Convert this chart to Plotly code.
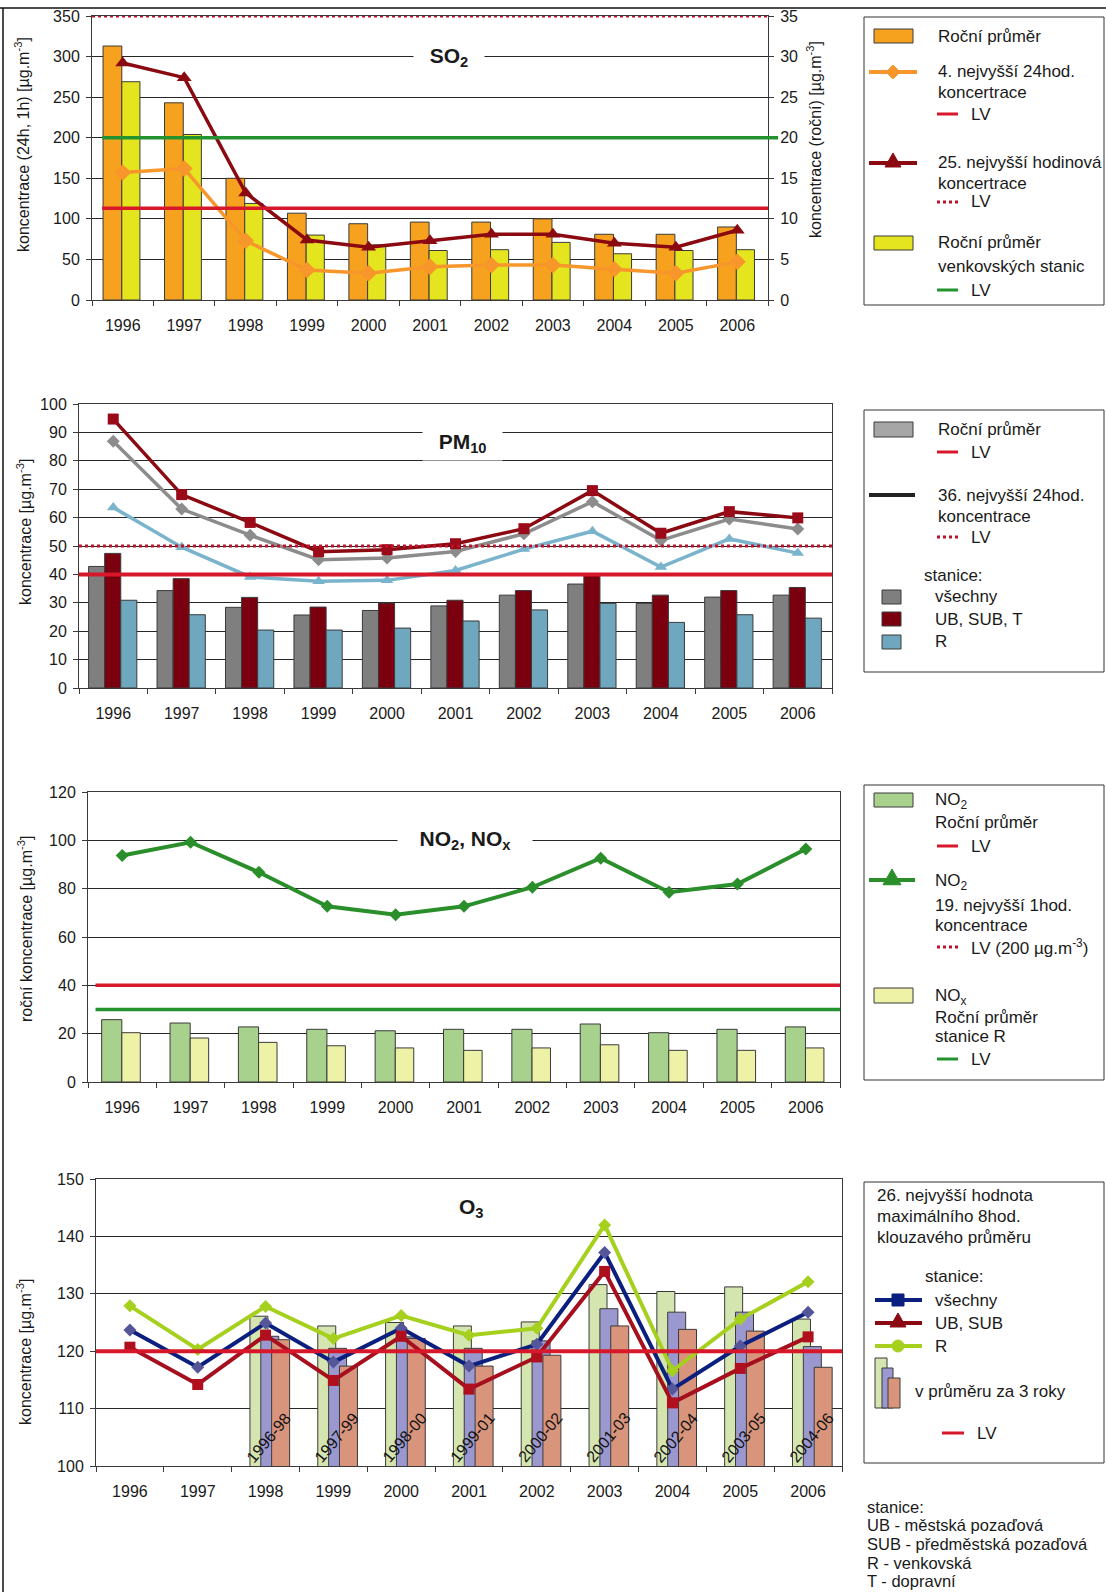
import plotly.graph_objects as go

W, H = 1106, 1592
FONT = "Liberation Sans, Arial, sans-serif"
TXT = "#1a1a1a"
GRID = "#262626"
AXL = "#3a3a3a"

# ---------------- data ----------------
years = ["1996", "1997", "1998", "1999", "2000", "2001", "2002", "2003", "2004", "2005", "2006"]
years_3y = ["1998", "1999", "2000", "2001", "2002", "2003", "2004", "2005", "2006"]

# SO2 (annual means on right axis, short-term values on left axis)
so2_mean = [31.3, 24.3, 15.0, 10.7, 9.4, 9.6, 9.6, 10.0, 8.1, 8.1, 9.0]
so2_rural_mean = [26.9, 20.4, 11.9, 8.0, 6.8, 6.1, 6.2, 7.1, 5.7, 6.1, 6.2]
so2_4th_24h = [157, 162, 73, 37, 33, 41, 43, 43, 38, 33, 47]
so2_25th_1h = [292, 274, 132, 74, 65, 73, 81, 81, 70, 65, 86]
so2_lv_24h = 113
so2_lv_1h = 350
so2_lv_rural = 20

# PM10
pm_all_mean = [42.8, 34.3, 28.4, 25.7, 27.3, 28.9, 32.7, 36.6, 29.8, 32.0, 32.7]
pm_ub_mean = [47.4, 38.5, 31.9, 28.5, 29.9, 30.9, 34.3, 40.1, 32.7, 34.3, 35.4]
pm_r_mean = [30.9, 25.8, 20.4, 20.4, 21.1, 23.6, 27.5, 29.8, 23.1, 25.8, 24.6]
pm_all_36 = [86.9, 63.0, 53.8, 45.2, 45.8, 48.1, 54.3, 65.6, 52.0, 59.5, 56.0]
pm_ub_36 = [94.7, 68.1, 58.3, 48.0, 48.7, 50.8, 56.1, 69.5, 54.5, 62.1, 59.9]
pm_r_36 = [63.6, 49.6, 39.1, 37.6, 37.9, 41.4, 48.9, 55.2, 42.6, 52.5, 47.5]
pm_lv_year = 40
pm_lv_24h = 50

# NO2 / NOx
no2_mean = [25.8, 24.4, 22.8, 21.8, 21.2, 21.8, 21.8, 24.0, 20.4, 21.8, 22.8]
nox_r_mean = [20.4, 18.2, 16.4, 15.0, 14.1, 13.1, 14.1, 15.4, 13.1, 13.1, 14.1]
no2_19th_1h = [93.7, 99.2, 86.8, 72.7, 69.2, 72.7, 80.6, 92.6, 78.5, 81.9, 96.4]
no2_lv = 40
nox_lv = 30

# O3
o3_r = [127.9, 120.3, 127.8, 122.2, 126.2, 122.8, 124.0, 142.0, 116.6, 125.6, 132.1]
o3_all = [123.7, 117.2, 124.9, 118.1, 124.0, 117.4, 121.2, 137.2, 113.4, 120.9, 126.8]
o3_ub = [120.7, 114.2, 122.8, 114.9, 122.6, 113.4, 119.0, 133.9, 111.0, 117.0, 122.5]
o3_r_3y = [126.1, 124.4, 125.0, 124.4, 125.1, 131.6, 130.4, 131.2, 125.6]
o3_all_3y = [122.6, 120.5, 122.5, 120.5, 121.8, 127.4, 126.8, 126.8, 120.8]
o3_ub_3y = [122.0, 117.4, 122.2, 117.4, 119.3, 124.4, 123.8, 123.5, 117.2]
o3_periods = ["1996-98", "1997-99", "1998-00", "1999-01", "2000-02", "2001-03", "2002-04", "2003-05", "2004-06"]
o3_lv = 120

# ---------------- colours ----------------
ORANGE = "#F6A21E"
ORANGE_L = "#F7962A"
YELLOW = "#E5E51F"
DRED = "#8B0A12"
RED = "#D7182A"
GREEN = "#23922F"
GRAY_B = "#7F7F7F"
GRAY_L = "#8C8C8C"
MAROON = "#7A0010"
BLUE_B = "#6FA7BF"
BLUE_L = "#7AB3CC"
NO2_B = "#A9D18E"
NOX_B = "#EEF2A6"
NO2_L = "#2A8F2A"
O3_G = "#D5E5B0"
O3_P = "#9B98D0"
O3_S = "#D9957C"
O3_R = "#A6D01E"
O3_N = "#0B1F7F"
O3_D = "#A50F1E"
OUT = dict(color="#3a3a3a", width=1)


def px(x):
    return x / W


def py(y):
    return 1 - y / H


fig = go.Figure()

# ---- SO2 ----
fig.add_trace(go.Bar(x=years, y=so2_mean, xaxis="x", yaxis="y", width=0.305, offset=-0.32,
                     marker=dict(color=ORANGE, line=OUT)))
fig.add_trace(go.Bar(x=years, y=so2_rural_mean, xaxis="x", yaxis="y", width=0.295, offset=-0.015,
                     marker=dict(color=YELLOW, line=OUT)))
fig.add_trace(go.Scatter(x=years, y=so2_4th_24h, xaxis="x", yaxis="y5", mode="lines+markers",
                         line=dict(color=ORANGE_L, width=3.5),
                         marker=dict(symbol="diamond", size=13, color=ORANGE_L)))
fig.add_trace(go.Scatter(x=years, y=so2_25th_1h, xaxis="x", yaxis="y5", mode="lines+markers",
                         line=dict(color=DRED, width=3.5),
                         marker=dict(symbol="triangle-up", size=13, color=DRED)))

# ---- PM10 ----
for vals, col, off in [(pm_all_mean, GRAY_B, -0.36), (pm_ub_mean, MAROON, -0.125), (pm_r_mean, BLUE_B, 0.11)]:
    fig.add_trace(go.Bar(x=years, y=vals, xaxis="x2", yaxis="y2", width=0.235, offset=off,
                         marker=dict(color=col, line=OUT)))
fig.add_trace(go.Scatter(x=years, y=pm_r_36, xaxis="x2", yaxis="y2", mode="lines+markers",
                         line=dict(color=BLUE_L, width=3.5),
                         marker=dict(symbol="triangle-up", size=11, color=BLUE_L)))
fig.add_trace(go.Scatter(x=years, y=pm_all_36, xaxis="x2", yaxis="y2", mode="lines+markers",
                         line=dict(color=GRAY_L, width=3.5),
                         marker=dict(symbol="diamond", size=10, color=GRAY_L)))
fig.add_trace(go.Scatter(x=years, y=pm_ub_36, xaxis="x2", yaxis="y2", mode="lines+markers",
                         line=dict(color=DRED, width=3.5),
                         marker=dict(symbol="square", size=11, color="#9B0A18")))

# ---- NO2 ----
fig.add_trace(go.Bar(x=years, y=no2_mean, xaxis="x3", yaxis="y3", width=0.295, offset=-0.3,
                     marker=dict(color=NO2_B, line=OUT)))
fig.add_trace(go.Bar(x=years, y=nox_r_mean, xaxis="x3", yaxis="y3", width=0.27, offset=-0.005,
                     marker=dict(color=NOX_B, line=OUT)))
fig.add_trace(go.Scatter(x=years, y=no2_19th_1h, xaxis="x3", yaxis="y3", mode="lines+markers",
                         line=dict(color=NO2_L, width=4),
                         marker=dict(symbol="diamond", size=10, color=NO2_L)))

# ---- O3 ----
for vals, col, off in [(o3_r_3y, O3_G, -0.23), (o3_all_3y, O3_P, -0.07), (o3_ub_3y, O3_S, 0.09)]:
    fig.add_trace(go.Bar(x=years_3y, y=vals, xaxis="x4", yaxis="y4", width=0.265, offset=off,
                         marker=dict(color=col, line=OUT)))
fig.add_trace(go.Scatter(x=years, y=o3_r, xaxis="x4", yaxis="y4", mode="lines+markers",
                         line=dict(color=O3_R, width=4),
                         marker=dict(symbol="diamond", size=10, color=O3_R)))
fig.add_trace(go.Scatter(x=years, y=o3_all, xaxis="x4", yaxis="y4", mode="lines+markers",
                         line=dict(color=O3_N, width=4),
                         marker=dict(symbol="diamond", size=10, color="#55559A")))
fig.add_trace(go.Scatter(x=years, y=o3_ub, xaxis="x4", yaxis="y4", mode="lines+markers",
                         line=dict(color=O3_D, width=4),
                         marker=dict(symbol="square", size=11, color="#B0101E")))

# ---------------- axes ----------------
tickf = dict(family=FONT, size=16, color=TXT)
XR = [-0.5, len(years) - 0.5]


def xax(x0, x1, anchor):
    return dict(domain=[px(x0), px(x1)], anchor=anchor, type="category", categoryorder="array",
                categoryarray=years, range=XR, autorange=False, tickson="boundaries",
                ticks="outside", ticklen=5, tickangle=0, automargin=False,
                tickcolor=AXL, showline=True, linecolor=AXL, linewidth=1, mirror=True,
                showgrid=False, tickfont=tickf, ticklabelstandoff=11, fixedrange=True)


def yax(y_top, y_bot, rng, dtick, anchor, grid=True, side="left"):
    return dict(domain=[py(y_bot), py(y_top)], anchor=anchor, range=rng, dtick=dtick,
                ticks="outside", ticklen=5, tickcolor=AXL, showline=True, linecolor=AXL,
                linewidth=1, mirror=True, showgrid=grid, gridcolor=GRID, gridwidth=1,
                zeroline=False, tickfont=tickf, side=side, ticklabelstandoff=3, fixedrange=True,
                automargin=False)


layout = dict(
    width=W, height=H, autosize=False, margin=dict(l=0, r=0, t=0, b=0, pad=0, autoexpand=False),
    paper_bgcolor="white", plot_bgcolor="white", showlegend=False,
    barmode="overlay", font=dict(family=FONT, color=TXT),
    xaxis=xax(92, 768, "y"),
    yaxis=yax(16, 300, [0, 35], 5, "x", grid=True, side="right"),
    yaxis5=dict(overlaying="y", side="left", anchor="x", range=[0, 350], dtick=50,
                ticks="outside", ticklen=5, tickcolor=AXL, showline=True, linecolor=AXL,
                showgrid=False, zeroline=False, tickfont=tickf, ticklabelstandoff=3,
                fixedrange=True, automargin=False),
    xaxis2=xax(79, 832, "y2"),
    yaxis2=yax(404, 688, [0, 100], 10, "x2"),
    xaxis3=xax(88, 840, "y3"),
    yaxis3=yax(792, 1082, [0, 120], 20, "x3"),
    xaxis4=xax(96, 842, "y4"),
    yaxis4=yax(1179, 1466, [100, 150], 10, "x4"),
)
layout["yaxis"]["mirror"] = False
fig.update_layout(**layout)

shapes = []
annotations = []


def lv(xref, yref, val, color, dash="solid", width=3.5, x0=0.0, x1=1.0):
    shapes.append(dict(type="line", xref=xref + " domain", yref=yref, x0=x0, x1=x1,
                       y0=val, y1=val, line=dict(color=color, width=width, dash=dash)))


# limit values
lv("x", "y5", so2_lv_1h, "#C0102A", dash="dot", width=3)
lv("x", "y5", so2_lv_24h, RED, x0=0.015)
lv("x", "y", so2_lv_rural, GREEN, x0=0.015, x1=1.015)
lv("x2", "y2", pm_lv_24h, "#C0102A", dash="dot", width=3)
lv("x2", "y2", pm_lv_year, RED, width=4)
lv("x3", "y3", no2_lv, RED, x0=0.01)
lv("x3", "y3", nox_lv, GREEN, x0=0.01)
lv("x4", "y4", o3_lv, RED, width=4)


def ptext(x, y, s, size=17, xanchor="left", color=TXT, **kw):
    annotations.append(dict(xref="paper", yref="paper", x=px(x), y=py(y), text=s,
                            showarrow=False, xanchor=xanchor, yanchor="middle",
                            font=dict(family=FONT, size=size, color=color), **kw))


def vtext(x, y, s, size=16):
    annotations.append(dict(xref="paper", yref="paper", x=px(x), y=py(y), text=s,
                            showarrow=False, xanchor="center", yanchor="middle", textangle=-90,
                            font=dict(family=FONT, size=size, color=TXT)))


def rect(x0, y0, x1, y1, fill, line="#3a3a3a", lw=1):
    shapes.append(dict(type="rect", xref="paper", yref="paper", x0=px(x0), x1=px(x1),
                       y0=py(y1), y1=py(y0), fillcolor=fill, line=dict(color=line, width=lw),
                       layer="above"))


def seg(x0, x1, y, color, width=3, dash="solid"):
    shapes.append(dict(type="line", xref="paper", yref="paper", x0=px(x0), x1=px(x1),
                       y0=py(y), y1=py(y), line=dict(color=color, width=width, dash=dash)))


def path(points, color):
    d = "M " + " L ".join(f"{px(a):.5f},{py(b):.5f}" for a, b in points) + " Z"
    shapes.append(dict(type="path", xref="paper", yref="paper", path=d, fillcolor=color,
                       line=dict(color=color, width=1)))


def diamond(cx, cy, s, color):
    path([(cx - s, cy), (cx, cy - s), (cx + s, cy), (cx, cy + s)], color)


def triangle(cx, cy, s, color):
    path([(cx - s, cy + s * 0.75), (cx, cy - s), (cx + s, cy + s * 0.75)], color)


def square(cx, cy, s, color):
    path([(cx - s, cy - s), (cx + s, cy - s), (cx + s, cy + s), (cx - s, cy + s)], color)


def circle(cx, cy, r, color):
    shapes.append(dict(type="circle", xref="paper", yref="paper", x0=px(cx - r), x1=px(cx + r),
                       y0=py(cy + r), y1=py(cy - r), fillcolor=color, line=dict(color=color, width=1)))


# frame of the page
seg(0, W, 8, "#111", width=1.5)
shapes.append(dict(type="line", xref="paper", yref="paper", x0=px(3), x1=px(3), y0=0, y1=py(8),
                   line=dict(color="#111", width=1.5)))

# chart titles (break the gridlines)
ptext(449, 57, "<b>\u00a0\u00a0SO<sub>2</sub>\u00a0\u00a0</b>", size=21, xanchor="center",
      bgcolor="white", borderpad=4)
ptext(462, 443, "<b>\u00a0\u00a0PM<sub>10</sub>\u00a0\u00a0</b>", size=21, xanchor="center",
      bgcolor="white", borderpad=4)
ptext(465, 840, "<b>\u00a0\u00a0\u00a0NO<sub>2</sub>, NO<sub>x</sub>\u00a0\u00a0\u00a0</b>", size=21,
      xanchor="center", bgcolor="white", borderpad=4)
ptext(471, 1208, "<b>O<sub>3</sub></b>", size=21, xanchor="center")

# axis titles
vtext(22, 145, "koncentrace (24h, 1h) [µg.m<sup>-3</sup>]")
vtext(814, 140, "koncentrace (roční) [µg.m<sup>-3</sup>]")
vtext(24, 532, "koncentrace [µg.m<sup>-3</sup>]")
vtext(25, 929, "roční koncentrace [µg.m<sup>-3</sup>]")
vtext(24, 1352, "koncentrace [µg.m<sup>-3</sup>]")

# O3 period labels inside the bars (x given as category index)
for yr, lab in zip(years_3y, o3_periods):
    annotations.append(dict(xref="x4", yref="y4", x=years.index(yr) + 0.05, y=105, text=lab,
                            showarrow=False, textangle=-50, xanchor="center", yanchor="middle",
                            font=dict(family=FONT, size=16, color="#111")))

# ---- legend box 1 (SO2) ----
rect(864, 17, 1104, 305, "rgba(0,0,0,0)", line="#333")
rect(874, 29, 913, 43, ORANGE)
ptext(936, 36, "Roční průměr")
seg(869, 917, 72, ORANGE_L, width=4)
diamond(893, 72, 7, ORANGE_L)
ptext(936, 72, "4. nejvyšší 24hod.")
ptext(936, 93, "koncertrace")
seg(937, 958, 114, RED, width=3)
ptext(969, 114, "LV")
seg(869, 917, 163, DRED, width=4)
triangle(893, 161, 8, DRED)
ptext(936, 163, "25. nejvyšší hodinová")
ptext(936, 184, "koncertrace")
seg(937, 958, 202, "#C0102A", width=3, dash="dot")
ptext(969, 202, "LV")
rect(874, 236, 913, 250, YELLOW)
ptext(936, 243, "Roční průměr")
ptext(936, 266, "venkovských stanic")
seg(937, 958, 290, GREEN, width=3)
ptext(969, 290, "LV")

# ---- legend box 2 (PM10) ----
rect(864, 410, 1104, 672, "rgba(0,0,0,0)", line="#333")
rect(874, 422, 913, 437, "#A6A6A6")
ptext(936, 430, "Roční průměr")
seg(937, 958, 452, RED, width=3)
ptext(969, 452, "LV")
seg(869, 915, 495, "#222", width=4)
ptext(936, 495, "36. nejvyšší 24hod.")
ptext(936, 516, "koncentrace")
seg(937, 958, 537, "#C0102A", width=3, dash="dot")
ptext(969, 537, "LV")
ptext(922, 575, "stanice:")
rect(882, 590, 901, 604, GRAY_B)
ptext(933, 596, "všechny")
rect(882, 612, 901, 626, MAROON)
ptext(933, 619, "UB, SUB, T")
rect(882, 635, 901, 649, BLUE_B)
ptext(933, 642, "R")

# ---- legend box 3 (NO2) ----
rect(864, 785, 1104, 1080, "rgba(0,0,0,0)", line="#333")
rect(874, 793, 913, 807, NO2_B)
ptext(933, 801, "NO<sub>2</sub>")
ptext(933, 822, "Roční průměr")
seg(937, 958, 846, RED, width=3)
ptext(969, 846, "LV")
seg(869, 915, 880, NO2_L, width=4)
triangle(892, 878, 9, NO2_L)
ptext(933, 882, "NO<sub>2</sub>")
ptext(933, 905, "19. nejvyšší 1hod.")
ptext(933, 925, "koncentrace")
seg(937, 958, 947, "#C0102A", width=3, dash="dot")
ptext(969, 947, "LV (200 µg.m<sup>-3</sup>)")
rect(874, 988, 913, 1003, NOX_B)
ptext(933, 997, "NO<sub>x</sub>")
ptext(933, 1017, "Roční průměr")
ptext(933, 1036, "stanice R")
seg(937, 958, 1059, GREEN, width=3)
ptext(969, 1059, "LV")

# ---- legend box 4 (O3) ----
rect(864, 1182, 1104, 1463, "rgba(0,0,0,0)", line="#333")
ptext(875, 1195, "26. nejvyšší hodnota")
ptext(875, 1216, "maximálního 8hod.")
ptext(875, 1237, "klouzavého průměru")
ptext(923, 1276, "stanice:")
seg(875, 922, 1300, O3_N, width=4)
square(898, 1300, 6, O3_N)
ptext(933, 1300, "všechny")
seg(875, 922, 1323, DRED, width=4)
triangle(898, 1321, 8, DRED)
ptext(933, 1323, "UB, SUB")
seg(875, 922, 1346, O3_R, width=4)
circle(898, 1346, 6, O3_R)
ptext(933, 1346, "R")
rect(875, 1358, 887, 1408, O3_G)
rect(882, 1368, 893, 1408, O3_P)
rect(888, 1378, 900, 1408, O3_S)
ptext(913, 1391, "v průměru za 3 roky")
seg(942, 964, 1433, RED, width=3)
ptext(975, 1433, "LV")

# ---- station abbreviations ----
ptext(865, 1507, "stanice:", size=16.5)
ptext(865, 1525, "UB - městská pozaďová", size=16.5)
ptext(865, 1544, "SUB - předměstská pozaďová", size=16.5)
ptext(865, 1563, "R - venkovská", size=16.5)
ptext(865, 1581, "T - dopravní", size=16.5)

fig.update_layout(shapes=shapes, annotations=annotations)

PIN = (
    "document.documentElement.style.margin='0';"
    "document.documentElement.style.overflow='hidden';"
    "document.body.style.margin='0';"
    "document.body.style.overflow='hidden';"
    "var gd=document.getElementById('{plot_id}');"
    "gd.style.position='absolute';gd.style.top='0px';gd.style.left='0px';"
)
fig.write_html("out.html", config={"displayModeBar": False}, post_script=PIN)
